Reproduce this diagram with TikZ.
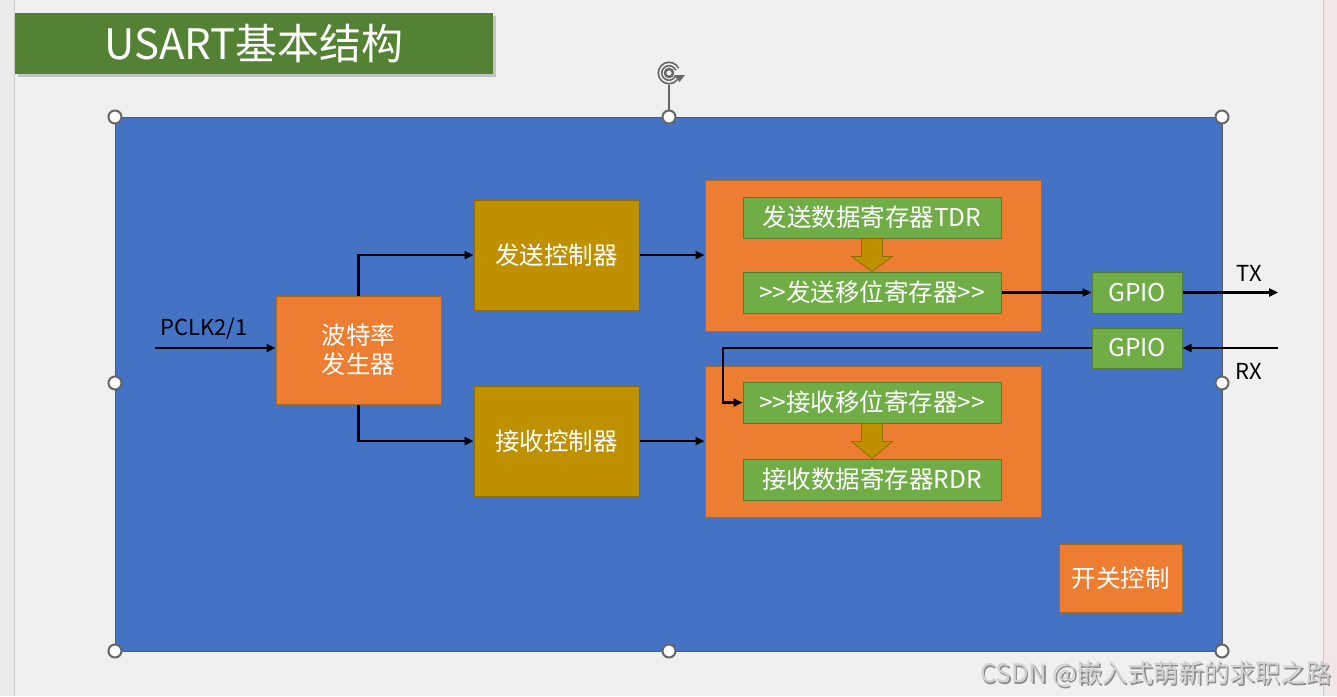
\documentclass[tikz,border=0pt]{standalone}
\usepackage{fontspec}
\setmainfont{Noto Sans CJK SC}
\usetikzlibrary{arrows.meta,calc}
\definecolor{bg}{HTML}{F0F0F0}
\definecolor{titlegreen}{HTML}{548235}
\definecolor{panel}{HTML}{4472C4}
\definecolor{panelb}{HTML}{5A5A5A}
\definecolor{orng}{HTML}{ED7D31}
\definecolor{orngd}{HTML}{A86A1E}
\definecolor{gold}{HTML}{BF9000}
\definecolor{goldd}{HTML}{8F6C00}
\definecolor{grn}{HTML}{70AD47}
\definecolor{grnd}{HTML}{507E32}
\definecolor{hgray}{HTML}{666666}
\tikzset{
  box/.style={rectangle, inner sep=0pt, line width=1pt, text=white,
    font=\fontsize{24.5}{29}\selectfont, align=center},
  obox/.style={box, fill=orng, draw=orngd},
  gbox/.style={box, fill=gold, draw=goldd},
  grbox/.style={box, fill=grn, draw=grnd},
  arr/.style={line width=2.8pt, -{Triangle[length=9pt,width=8pt]}},
  handle/.style={circle, fill=white, draw=hgray, line width=2pt, minimum size=13pt, inner sep=0pt},
  lbl/.style={font=\fontsize{22}{26}\selectfont, text=black, inner sep=0pt},
  barrow/.style={fill=gold, draw=goldd, line width=0.8pt}
}
\begin{document}
\begin{tikzpicture}[x=1pt,y=-1pt]
\useasboundingbox (0,0) rectangle (1337,696);
\fill[bg] (0,0) rectangle (1337,696);
\fill[black!8] (0,0) rectangle (14,696);
\draw[black!20, line width=1pt] (14,0) -- (14,696);
\fill[red!4!bg] (1323,0) rectangle (1337,696);
\draw[black!20, line width=1pt] (1323,0) -- (1323,696);
% title
\fill[black!35, opacity=0.6] (18,16) rectangle (496,77);
\node[rectangle, fill=titlegreen, minimum width=478pt, minimum height=61pt, inner sep=0pt,
  text=white, font=\fontsize{42}{46}\selectfont] (title) at (254,43.5) {USART基本结构};
% panel
\draw[fill=panel, draw=panelb, line width=1pt] (115,117) rectangle (1222,651);
% rotation handle
\coordinate (rot) at (669,73);
\draw[hgray, line width=1.4pt] (669,85) -- (669,111);
\draw[hgray, line width=5pt] (rot) ++(-25:9) arc[start angle=-25, end angle=-325, radius=9];
\draw[bg, line width=1.6pt] (rot) ++(-25:9) arc[start angle=-25, end angle=-325, radius=9];
\draw[hgray, line width=2.4pt] (rot) circle (4);
\fill[hgray] ($(rot)+(5,2)$) -- ($(rot)+(16,2)$) -- ($(rot)+(10.5,9)$) -- cycle;
% handles
\foreach \p/\n in {{115,117}/h1,{669,117}/h2,{1222,117}/h3,{115,383}/h4,{1222,383}/h5,{115,651}/h6,{669,651}/h7,{1222,651}/h8}
  \node[handle] (\n) at (\p) {};
% boxes
\node[obox, minimum width=165pt, minimum height=108pt] (baud) at (358.5,350) {波特率\\发生器};
\node[gbox, minimum width=165pt, minimum height=110pt] (sendc) at (556.5,255) {发送控制器};
\node[gbox, minimum width=165pt, minimum height=110pt] (recvc) at (556.5,441) {接收控制器};
\node[obox, minimum width=336pt, minimum height=151pt] (sendbox) at (873,255.5) {};
\node[obox, minimum width=336pt, minimum height=151pt] (recvbox) at (873,441.5) {};
\node[grbox, minimum width=258pt, minimum height=41pt] (tdr) at (872,217.5) {发送数据寄存器TDR};
\node[grbox, minimum width=258pt, minimum height=41pt] (tsr) at (872,292.5) {>{}>发送移位寄存器>{}>};
\node[grbox, minimum width=258pt, minimum height=41pt] (rsr) at (872,402.5) {>{}>接收移位寄存器>{}>};
\node[grbox, minimum width=258pt, minimum height=41pt] (rdr) at (872,479.5) {接收数据寄存器RDR};
\node[grbox, minimum width=90pt, minimum height=41pt] (gpiot) at (1137,292.5) {GPIO};
\node[grbox, minimum width=90pt, minimum height=40pt] (gpior) at (1137,348) {GPIO};
\node[obox, minimum width=123pt, minimum height=68pt] (sw) at (1120.5,578) {开关控制};
% block arrows
\draw[barrow] ($(tdr.south)+(-10.5,0)$) -- ($(tdr.south)+(-10.5,18)$) -- ($(tdr.south)+(-20.5,18)$)
  -- (tsr.north) -- ($(tdr.south)+(20.5,18)$) -- ($(tdr.south)+(10.5,18)$) -- ($(tdr.south)+(10.5,0)$) -- cycle;
\draw[barrow] ($(rsr.south)+(-10.5,0)$) -- ($(rsr.south)+(-10.5,18)$) -- ($(rsr.south)+(-20.5,18)$)
  -- (rdr.north) -- ($(rsr.south)+(20.5,18)$) -- ($(rsr.south)+(10.5,18)$) -- ($(rsr.south)+(10.5,0)$) -- cycle;
% connectors
\coordinate (pclk) at (155,348);
\coordinate (txend) at (1278,292.5);
\coordinate (rxstart) at (1278,348);
\coordinate (bend) at (723,348);
\draw[arr] (pclk) -- (pclk -| baud.west);
\draw[arr] (baud.north) |- (sendc.west);
\draw[arr] (baud.south) |- (recvc.west);
\draw[arr] (sendc.east) -- (sendc.east -| sendbox.west);
\draw[arr] (recvc.east) -- (recvc.east -| recvbox.west);
\draw[arr] (tsr.east) -- (gpiot.west);
\draw[arr] (gpiot.east) -- (txend);
\draw[arr] (rxstart) -- (gpior.east);
\draw[arr] (gpior.west) -- (bend) |- (rsr.west);
% labels
\node[lbl] (pclklbl) at (204,329) {PCLK2/1};
\node[lbl] (txlbl) at (1249,273) {TX};
\node[lbl] (rxlbl) at (1249,371) {RX};
% watermark
\node[anchor=east, text=black!45, font=\fontsize{25.5}{28}\selectfont, inner sep=0pt] (wm2) at (1333.5,675.5) {CSDN @嵌入式萌新的求职之路};
\node[anchor=east, text=black!18, font=\fontsize{25.5}{28}\selectfont, inner sep=0pt] (wm) at (1332,674) {CSDN @嵌入式萌新的求职之路};
\end{tikzpicture}
\end{document}
